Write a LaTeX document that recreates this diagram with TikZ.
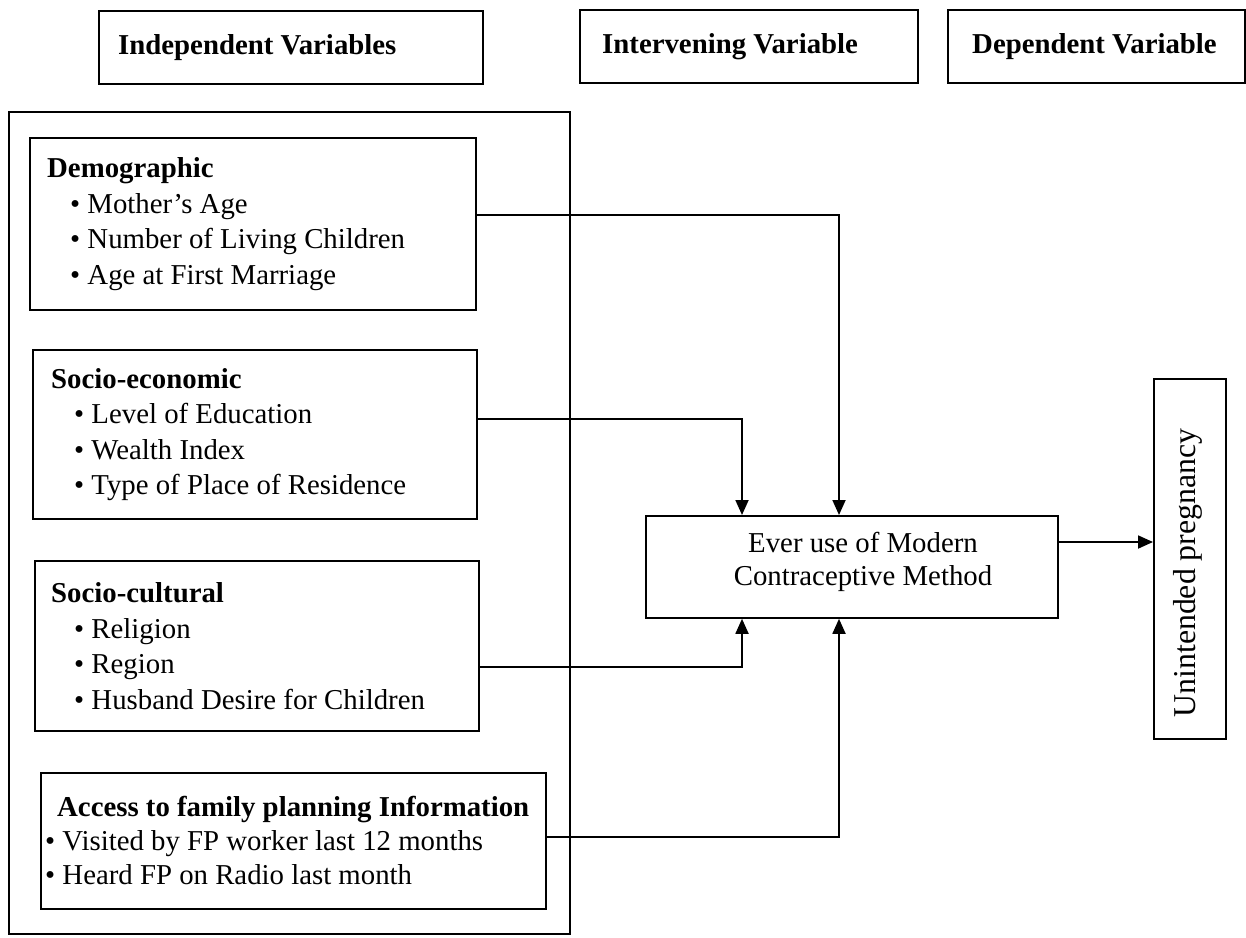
\documentclass[tikz,border=0pt]{standalone}
\usepackage{fontspec}
\setmainfont{Liberation Serif}
\usetikzlibrary{arrows.meta}
\begin{document}
\begin{tikzpicture}[x=1pt,y=-1pt,
  boxed/.style={draw=black, line width=1.8pt, rectangle, inner sep=0pt, anchor=north west},
  lbl/.style={inner sep=0pt, align=left, anchor=west, font=\fontsize{28.8}{35.5}\selectfont},
  conn/.style={draw=black, line width=1.8pt, -{Triangle[length=15pt,width=13pt]}},
]
\useasboundingbox (0,0) rectangle (1246,937);
\fill[white] (0,0) rectangle (1246,937);

% header boxes
\node[boxed, minimum width=384pt, minimum height=73pt] (hind) at (98,10) {};
\node[lbl] (hindt) at ([xshift=20pt]hind.west) {\textbf{Independent Variables}};
\node[boxed, minimum width=338pt, minimum height=73pt] (hint) at (579,9) {};
\node[lbl] (hintt) at ([xshift=23pt]hint.west) {\textbf{Intervening Variable}};
\node[boxed, minimum width=297pt, minimum height=73pt] (hdep) at (947,9) {};
\node[lbl] (hdept) at ([xshift=25pt]hdep.west) {\textbf{Dependent Variable}};

% outer frame
\node[boxed, minimum width=561pt, minimum height=822pt] (outer) at (8,111) {};

% demographic
\node[boxed, minimum width=446pt, minimum height=172pt] (demo) at (29,137) {};
\node[lbl] (demot) at ([xshift=18pt]demo.west) {\textbf{Demographic}\\
\hspace*{23pt}\textbullet\ Mother's Age\\
\hspace*{23pt}\textbullet\ Number of Living Children\\
\hspace*{23pt}\textbullet\ Age at First Marriage};

% socio-economic
\node[boxed, minimum width=444pt, minimum height=169pt] (se) at (32,349) {};
\node[lbl] (set) at ([xshift=19pt]se.west) {\textbf{Socio-economic}\\
\hspace*{23pt}\textbullet\ Level of Education\\
\hspace*{23pt}\textbullet\ Wealth Index\\
\hspace*{23pt}\textbullet\ Type of Place of Residence};

% socio-cultural
\node[boxed, minimum width=444pt, minimum height=170pt] (sc) at (34,560) {};
\node[lbl] (sct) at ([xshift=17pt]sc.west) {\textbf{Socio-cultural}\\
\hspace*{23pt}\textbullet\ Religion\\
\hspace*{23pt}\textbullet\ Region\\
\hspace*{23pt}\textbullet\ Husband Desire for Children};

% access
\node[boxed, minimum width=505pt, minimum height=136pt] (acc) at (40,772) {};
\node[lbl, font=\fontsize{28.8}{34}\selectfont] (acct) at ([xshift=5pt]acc.west) {\hspace*{12pt}\textbf{Access to family planning Information}\\
\textbullet\ Visited by FP worker last 12 months\\
\textbullet\ Heard FP on Radio last month};

% intervening
\node[boxed, minimum width=412pt, minimum height=102pt] (cm) at (645,515) {};
\node[lbl, align=center, anchor=center, font=\fontsize{28.8}{33.5}\selectfont] (cmt) at (863,562) {Ever use of Modern\\Contraceptive Method};

% dependent
\node[boxed, minimum width=72pt, minimum height=360pt] (up) at (1153,378) {};
\node[lbl, anchor=center, rotate=90, font=\fontsize{31.8}{38}\selectfont] (upt) at (1188,573) {Unintended pregnancy};

% helper coordinates
\coordinate (ya) at (0,215);
\coordinate (yb) at (0,419);
\coordinate (yc) at (0,667);
\coordinate (yd) at (0,837);
\coordinate (ye) at (0,542);
\coordinate (xa) at (742,0);
\coordinate (xb) at (839,0);

% connectors
\draw[conn] (demo.east |- ya) -| (cm.north -| xb);
\draw[conn] (se.east |- yb) -| (cm.north -| xa);
\draw[conn] (sc.east |- yc) -| (cm.south -| xa);
\draw[conn] (acc.east |- yd) -| (cm.south -| xb);
\draw[conn] (cm.east |- ye) -- (up.west |- ye);
\end{tikzpicture}
\end{document}
